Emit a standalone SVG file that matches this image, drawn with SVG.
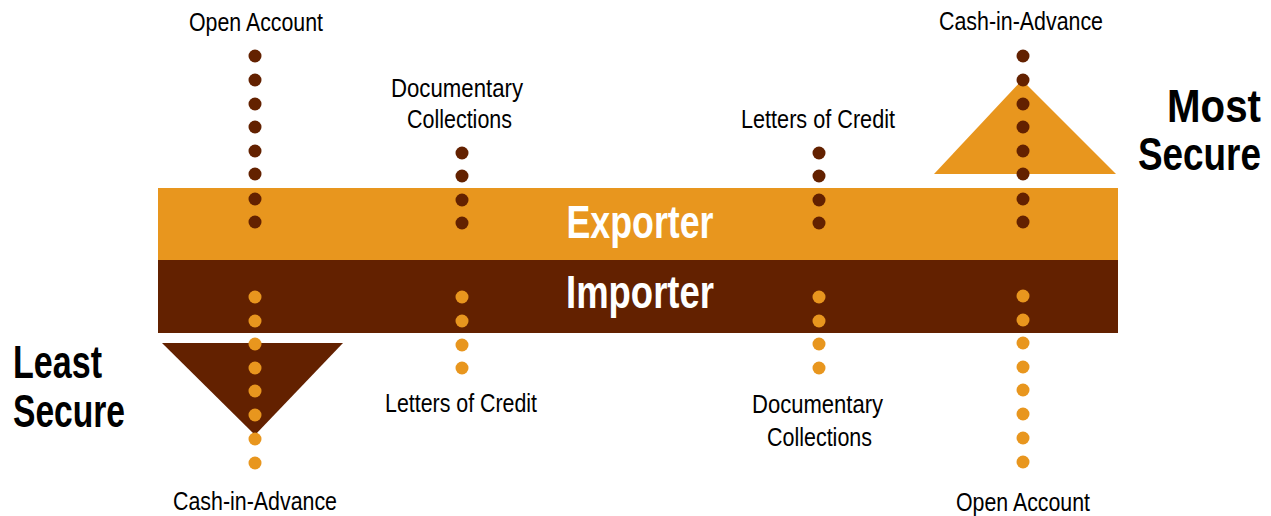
<svg xmlns="http://www.w3.org/2000/svg" width="1271" height="516" viewBox="0 0 1271 516">
<style>
.lbl{font-family:"Liberation Sans",Arial,sans-serif;font-size:26px;fill:#000;text-anchor:middle}
.big{font-family:"Liberation Sans",Arial,sans-serif;font-size:47px;font-weight:bold;fill:#000}
.band{font-family:"Liberation Sans",Arial,sans-serif;font-size:46px;font-weight:bold;fill:#fff;text-anchor:middle}
.dd{fill:#632100}
.od{fill:#E8961E}
</style>
<defs>
<circle id="d" r="6.5" cx="0" cy="0"/>
</defs>
<rect width="1271" height="516" fill="#fff"/>
<g id="exporter">
<rect x="158" y="188" width="960" height="72" fill="#E8961E"/>
<text class="band" x="640" y="238" textLength="147" lengthAdjust="spacingAndGlyphs">Exporter</text>
</g>
<g id="importer">
<rect x="158" y="260" width="960" height="73" fill="#632100"/>
<text class="band" x="640" y="308" textLength="148" lengthAdjust="spacingAndGlyphs">Importer</text>
</g>
<g id="most-secure">
<polygon points="1022,80 1116,174 934,174" fill="#E8961E"/>
<text class="big" transform="translate(1261,122) scale(0.857,1)" x="0" y="0" text-anchor="end">Most</text>
<text class="big" transform="translate(1261,170) scale(0.785,1)" x="0" y="0" text-anchor="end">Secure</text>
</g>
<g id="least-secure">
<polygon points="162,343 343,343 255,435" fill="#632100"/>
<text class="big" x="13" y="378" textLength="89" lengthAdjust="spacingAndGlyphs">Least</text>
<text class="big" x="13" y="427" textLength="112" lengthAdjust="spacingAndGlyphs">Secure</text>
</g>
<g id="connectors">
<g class="dd">
<use href="#d" x="255" y="56"/><use href="#d" x="255" y="80"/><use href="#d" x="255" y="104"/><use href="#d" x="255" y="127"/><use href="#d" x="255" y="151"/><use href="#d" x="255" y="174"/><use href="#d" x="255" y="199"/><use href="#d" x="255" y="222"/>
<use href="#d" x="462" y="153"/><use href="#d" x="462" y="176"/><use href="#d" x="462" y="200"/><use href="#d" x="462" y="223"/>
<use href="#d" x="819" y="153"/><use href="#d" x="819" y="176"/><use href="#d" x="819" y="200"/><use href="#d" x="819" y="223"/>
<use href="#d" x="1023" y="56"/><use href="#d" x="1023" y="80"/><use href="#d" x="1023" y="104"/><use href="#d" x="1023" y="127"/><use href="#d" x="1023" y="151"/><use href="#d" x="1023" y="174"/><use href="#d" x="1023" y="199"/><use href="#d" x="1023" y="222"/>
</g>
<g class="od">
<use href="#d" x="255" y="297"/><use href="#d" x="255" y="321"/><use href="#d" x="255" y="344"/><use href="#d" x="255" y="368"/><use href="#d" x="255" y="391"/><use href="#d" x="255" y="415"/><use href="#d" x="255" y="439"/><use href="#d" x="255" y="463"/>
<use href="#d" x="462" y="297"/><use href="#d" x="462" y="321"/><use href="#d" x="462" y="345"/><use href="#d" x="462" y="368"/>
<use href="#d" x="819" y="297"/><use href="#d" x="819" y="321"/><use href="#d" x="819" y="344"/><use href="#d" x="819" y="368"/>
<use href="#d" x="1023" y="296"/><use href="#d" x="1023" y="320"/><use href="#d" x="1023" y="343"/><use href="#d" x="1023" y="367"/><use href="#d" x="1023" y="390"/><use href="#d" x="1023" y="414"/><use href="#d" x="1023" y="438"/><use href="#d" x="1023" y="462"/>
</g>
</g>
<g id="exporter-labels">
<text class="lbl" x="256" y="31" textLength="134" lengthAdjust="spacingAndGlyphs">Open Account</text>
<text class="lbl" x="457" y="97" textLength="132" lengthAdjust="spacingAndGlyphs">Documentary</text>
<text class="lbl" x="459.5" y="128" textLength="105" lengthAdjust="spacingAndGlyphs">Collections</text>
<text class="lbl" x="818" y="128" textLength="154" lengthAdjust="spacingAndGlyphs">Letters of Credit</text>
<text class="lbl" x="1021" y="30" textLength="164" lengthAdjust="spacingAndGlyphs">Cash-in-Advance</text>
</g>
<g id="importer-labels">
<text class="lbl" x="255" y="510" textLength="164" lengthAdjust="spacingAndGlyphs">Cash-in-Advance</text>
<text class="lbl" x="461" y="412" textLength="152" lengthAdjust="spacingAndGlyphs">Letters of Credit</text>
<text class="lbl" x="817.5" y="413" textLength="131" lengthAdjust="spacingAndGlyphs">Documentary</text>
<text class="lbl" x="819.5" y="446" textLength="105" lengthAdjust="spacingAndGlyphs">Collections</text>
<text class="lbl" x="1023" y="511" textLength="134" lengthAdjust="spacingAndGlyphs">Open Account</text>
</g>
</svg>
